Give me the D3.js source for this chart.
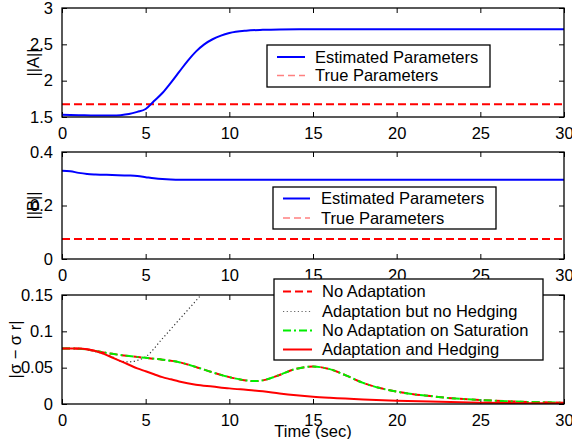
<!DOCTYPE html>
<html><head><meta charset="utf-8">
<script src="https://cdn.jsdelivr.net/npm/d3@7"></script>
<style>body{margin:0;background:#fff}svg{display:block}text{font-family:"Liberation Sans",Arial,Helvetica,sans-serif}</style>
</head><body>
<script>
// ---- data ----
const xTicks = [0,5,10,15,20,25,30];
const aTicks = [1.5,2,2.5,3];
const bTicks = [0,0.2,0.4];
const sTicks = [0,0.05,0.1,0.15];
const aTickLabels = ["1.5","2","2.5","3"];
const bTickLabels = ["0","0.2","0.4"];
const sTickLabels = ["0","0.05","0.1","0.15"];

const tA = [0,1,2,3,3.5,4,4.5,5,5.5,6,6.5,7,7.5,8,8.5,9,9.5,10,11,12,13,15,20,25,30];
const estA = [1.53,1.525,1.52,1.52,1.525,1.54,1.57,1.61,1.72,1.83,1.97,2.12,2.27,2.40,2.50,2.57,2.62,2.655,2.688,2.70,2.705,2.707,2.707,2.707,2.707];
const trueA = 1.675;

const tB = [0,0.5,1,1.5,2,3,4,4.5,5,5.5,6,6.5,7,8,10,15,20,25,30];
const estB = [0.330,0.328,0.322,0.318,0.316,0.314,0.312,0.310,0.306,0.302,0.299,0.297,0.296,0.296,0.296,0.296,0.296,0.296,0.296];
const trueB = 0.075;

const tNoAd = [0,1,2,3,4,5,6,7,8,9,10,11,11.5,12,13,14,15,16,17,18,19,20,21,22,23,24,25,27,30];
const noAdapt = [0.0765,0.0762,0.073,0.069,0.066,0.0635,0.061,0.0575,0.051,0.0435,0.037,0.0325,0.0315,0.0325,0.040,0.0485,0.0515,0.048,0.039,0.029,0.022,0.017,0.0135,0.011,0.0085,0.0068,0.0055,0.0035,0.0018];
const noAdaptSat = noAdapt;
const tNoHedge = [0,1,2,3,3.5,4,4.5,5,6,7,8,8.5,9];
const adaptNoHedge = [0.0765,0.0762,0.072,0.065,0.059,0.058,0.060,0.065,0.090,0.116,0.142,0.155,0.168];
const tHedge = [0,1,1.5,2,2.5,3,3.5,4,4.5,5,5.5,6,6.5,7,8,9,10,11,12,13,14,15,16,18,20,22,25,28,30];
const adaptHedge = [0.0765,0.0765,0.0755,0.073,0.069,0.064,0.059,0.054,0.049,0.045,0.041,0.037,0.034,0.031,0.0265,0.024,0.0215,0.0195,0.0175,0.0145,0.012,0.010,0.0085,0.0062,0.0046,0.0033,0.0018,0.0011,0.001];

const legend1 = ["Estimated Parameters","True Parameters"];
const legend3 = ["No Adaptation","Adaptation but no Hedging","No Adaptation on Saturation","Adaptation and Hedging"];

// ---- drawing ----
const W=572,H=439;
const svg=d3.select("body").append("svg").attr("width",W).attr("height",H);
const x=d3.scaleLinear().domain([0,30]).range([62,564]);
const FS=16.5;

function panel(top,bottom,domain,ticks,labels,yLabel,labelX,id){
  const y=d3.scaleLinear().domain(domain).range([bottom,top]);
  const g=svg.append("g");
  g.append("clipPath").attr("id",id).append("rect").attr("x",62).attr("y",top).attr("width",502).attr("height",bottom-top);
  g.append("g").attr("transform",`translate(0,${bottom})`).call(d3.axisBottom(x).tickValues(xTicks).tickSize(-5).tickPadding(10).tickFormat(d3.format("d")))
   .call(a=>{a.select(".domain").remove();a.selectAll("text").attr("font-size",FS).attr("fill","#000").attr("font-family",'"Liberation Sans",Arial,sans-serif');a.selectAll("line").attr("stroke","#000");});
  g.append("g").attr("transform",`translate(0,${top})`).call(d3.axisTop(x).tickValues(xTicks).tickSize(-5).tickFormat(""))
   .call(a=>{a.select(".domain").remove();a.selectAll("line").attr("stroke","#000");});
  g.append("g").attr("transform",`translate(62,0)`).call(d3.axisLeft(y).tickValues(ticks).tickSize(-5).tickPadding(9).tickFormat((d,i)=>labels[i]))
   .call(a=>{a.select(".domain").remove();a.selectAll("text").attr("font-size",FS).attr("fill","#000").attr("font-family",'"Liberation Sans",Arial,sans-serif');a.selectAll("line").attr("stroke","#000");});
  g.append("g").attr("transform",`translate(564,0)`).call(d3.axisRight(y).tickValues(ticks).tickSize(-5).tickFormat(""))
   .call(a=>{a.select(".domain").remove();a.selectAll("line").attr("stroke","#000");});
  g.append("text").attr("transform",`translate(${labelX},${(top+bottom)/2}) rotate(-90)`).attr("text-anchor","middle").attr("dy","0.35em").attr("font-size",FS).text(yLabel);
  const plot=svg.append("g").attr("clip-path",`url(#${id})`);
  return {y,plot,g,top,bottom};
}
function frame(p){
  svg.append("rect").attr("x",62).attr("y",p.top).attr("width",502).attr("height",p.bottom-p.top).attr("fill","none").attr("stroke","#000").attr("stroke-width",1.3);
}
const line=(y)=>d3.line().x(d=>x(d[0])).y(d=>y(d[1])).curve(d3.curveMonotoneX);
const zip=(a,b)=>a.map((t,i)=>[t,b[i]]);

// Panel 1
const p1=panel(8,117,[1.5,3],aTicks,aTickLabels,"||A||",33,"c1");
p1.plot.append("path").attr("d",line(p1.y)([[0,trueA],[30,trueA]])).attr("fill","none").attr("stroke","#ff0000").attr("stroke-width",2).attr("stroke-dasharray","8,4");
p1.plot.append("path").attr("d",line(p1.y)(zip(tA,estA))).attr("fill","none").attr("stroke","#0000ff").attr("stroke-width",2);
frame(p1);

// Panel 2
const p2=panel(152,259,[0,0.4],bTicks,bTickLabels,"||B||",33,"c2");
p2.plot.append("path").attr("d",line(p2.y)([[0,trueB],[30,trueB]])).attr("fill","none").attr("stroke","#ff0000").attr("stroke-width",2).attr("stroke-dasharray","8,4");
p2.plot.append("path").attr("d",line(p2.y)(zip(tB,estB))).attr("fill","none").attr("stroke","#0000ff").attr("stroke-width",2);
frame(p2);

// Panel 3
const p3=panel(295,404,[0,0.15],sTicks,sTickLabels,"|σ − σ r|",15,"c3");
p3.plot.append("path").attr("d",line(p3.y)(zip(tNoHedge,adaptNoHedge))).attr("fill","none").attr("stroke","#333").attr("stroke-width",1.2).attr("stroke-dasharray","1.2,2.5");
p3.plot.append("path").attr("d",line(p3.y)(zip(tNoAd,noAdapt))).attr("fill","none").attr("stroke","#ff0000").attr("stroke-width",2).attr("stroke-dasharray","8,4");
p3.plot.append("path").attr("d",line(p3.y)(zip(tNoAd,noAdaptSat))).attr("fill","none").attr("stroke","#00ee00").attr("stroke-width",2).attr("stroke-dasharray","8,3,2,3");
p3.plot.append("path").attr("d",line(p3.y)(zip(tHedge,adaptHedge))).attr("fill","none").attr("stroke","#ff0000").attr("stroke-width",2);
frame(p3);

svg.append("text").attr("x",313).attr("y",437).attr("text-anchor","middle").attr("font-size",FS).text("Time (sec)");

// Legends
function legend(box,rows,styles,lx0,lx1,tx){
  svg.append("rect").attr("x",box[0]).attr("y",box[1]).attr("width",box[2]-box[0]).attr("height",box[3]-box[1]).attr("fill","#fff").attr("stroke","#000").attr("stroke-width",1.3);
  rows.forEach((r,i)=>{
    const s=styles[i];
    svg.append("line").attr("x1",lx0).attr("x2",lx1).attr("y1",r.y).attr("y2",r.y).attr("stroke",s.c).attr("stroke-width",s.w).attr("stroke-dasharray",s.d||null);
    svg.append("text").attr("x",tx).attr("y",r.y).attr("dy","0.35em").attr("font-size",FS).text(r.t);
  });
}
const st1=[{c:"#0000ff",w:2},{c:"#ff8080",w:1.5,d:"7,4"}];
legend([267,45,490,87],[{y:57,t:legend1[0]},{y:75.5,t:legend1[1]}],st1,277,305,315);
legend([273,187,496,229],[{y:198.5,t:legend1[0]},{y:218,t:legend1[1]}],st1,283,310,321);
legend([274,279,543,360],[{y:291.5,t:legend3[0]},{y:311.5,t:legend3[1]},{y:330.5,t:legend3[2]},{y:349.5,t:legend3[3]}],
  [{c:"#ff0000",w:2,d:"8,4"},{c:"#666",w:1.2,d:"1.2,2.5"},{c:"#00ee00",w:2,d:"8,3,2,3"},{c:"#ff0000",w:2}],283,312,322);
</script>
</body></html>
